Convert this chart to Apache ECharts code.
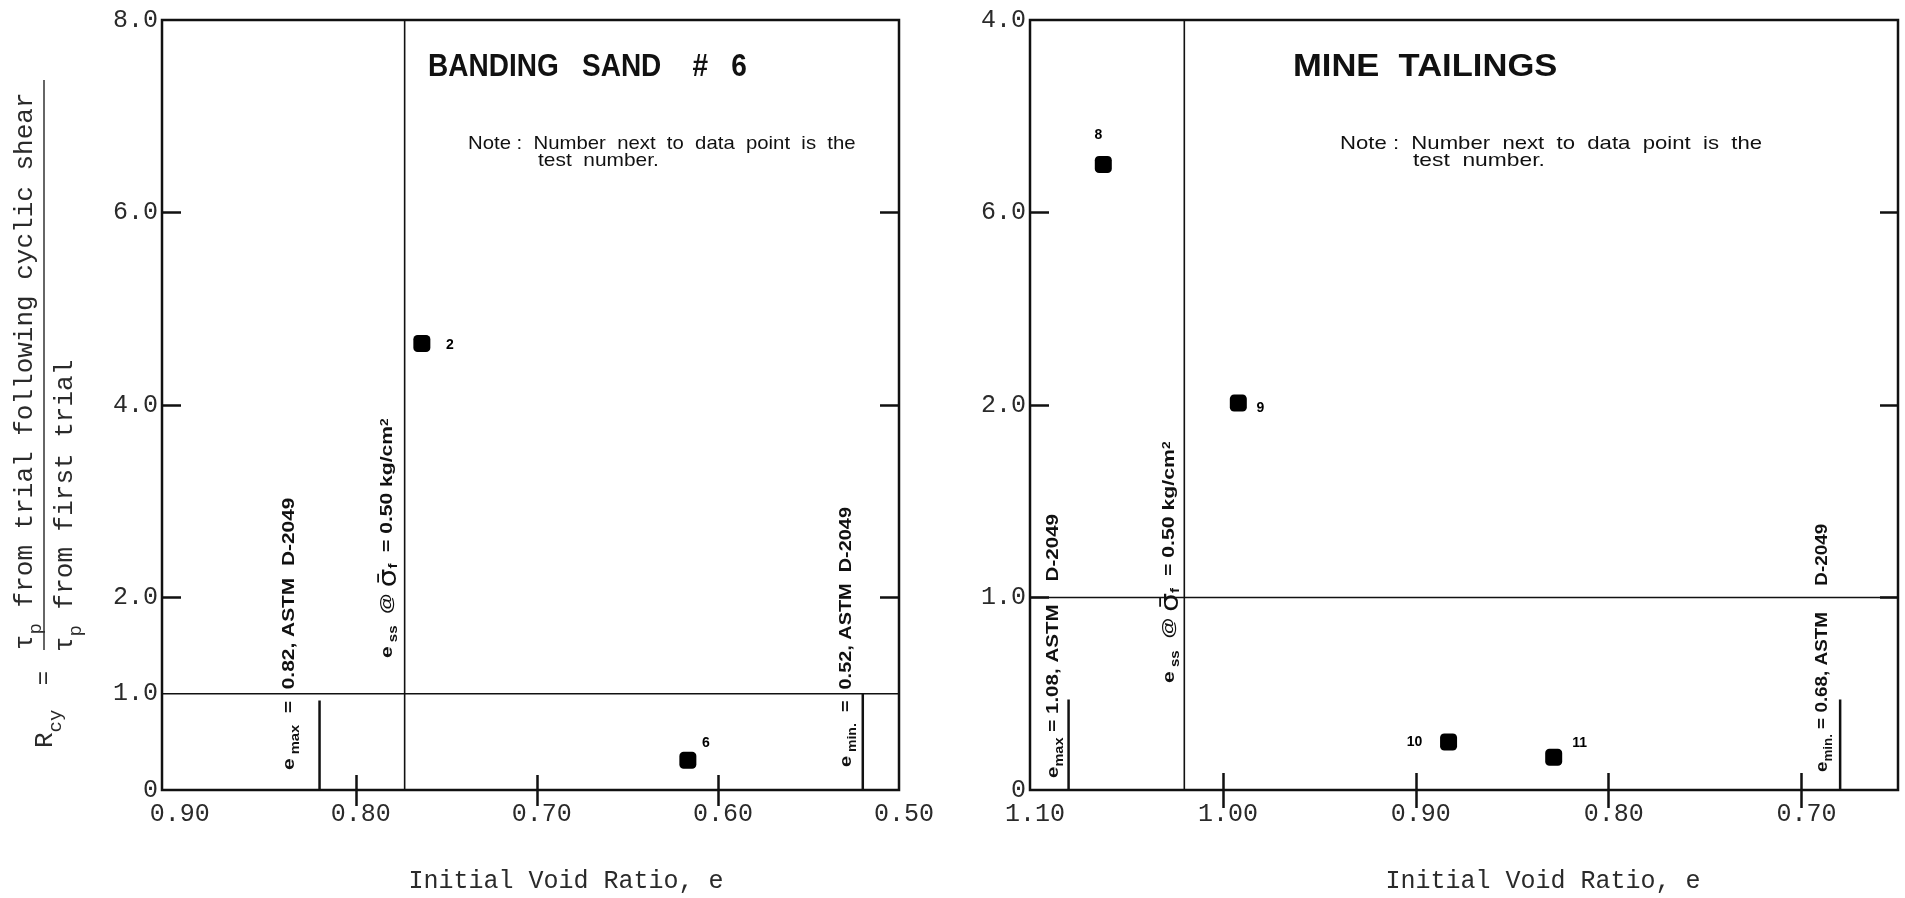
<!DOCTYPE html>
<html>
<head>
<meta charset="utf-8">
<script src="https://cdn.jsdelivr.net/npm/echarts@6/dist/echarts.min.js"></script>
<style>
  html, body { margin: 0; padding: 0; background: #ffffff; }
  #chart { width: 1905px; height: 898px; }
</style>
</head>
<body>
<div id="chart"></div>
<script>
// ---- Banding Sand #6 : initial void ratio vs. R_cy ----
const bandVoidRatio = [0.7635, 0.6166];
const bandRcy = [4.64, 0.31];
const bandTests = ['2', '6'];
// limiting void ratios (vertical reference lines) and the heights they are drawn to
const bandEmax = 0.82, bandEmaxTop = 0.93;
const bandEmin = 0.52, bandEminTop = 1.0;
const bandEss = 0.773;

// ---- Mine tailings ----
const mineVoidRatio = [1.062, 0.992, 0.883, 0.8285];
const mineRcy = [3.25, 2.01, 0.25, 0.17];
const mineTests = ['8', '9', '10', '11'];
const mineEmax = 1.08, mineEmaxTop = 0.47;
const mineEmin = 0.68, mineEminTop = 0.47;
const mineEss = 1.02;

// R_cy = 1.0 line in both panels
const unityRcy = 1.0;

// axis ranges and tick labels
const bandXRange = [0.50, 0.907];
const bandYRange = [0, 8];
const bandXLabels = [0.90, 0.80, 0.70, 0.60, 0.50];
const bandXTickMarks = [0.80, 0.70, 0.60];
const bandYLabels = [0, 1, 2, 4, 6, 8];
const bandYTickMarks = [2, 4, 6];

const mineXRange = [0.65, 1.10];
const mineYRange = [0, 4];
const mineXLabels = [1.10, 1.00, 0.90, 0.80, 0.70];
const mineXTickMarks = [1.00, 0.90, 0.80, 0.70];
const mineYLabelValues = [0, 1, 2, 3, 4];
const mineYLabelTexts = ['0', '1.0', '2.0', '6.0', '4.0'];
const mineYTickMarks = [1, 2, 3];

// ---- styling ----
const INK = '#111';
const GREY_INK = '#2a2a2a';
const MONO = 'Liberation Mono';
const SANS = 'Liberation Sans';
const labelOffsets = { '2': [28, 2], '6': [18, -17], '8': [-5, -29], '9': [22, 5], '10': [-34, 0], '11': [26, -14] };

const chart = echarts.init(document.getElementById('chart'), null, { renderer: 'canvas' });

const tickLabelStyle = { fontFamily: MONO, fontSize: 25, color: GREY_INK };

function xAxisDef(grid, range, position, tickMarks, tickLen, labels) {
  return {
    gridIndex: grid, type: 'value', inverse: true, position: position,
    min: range[0], max: range[1],
    axisLine: { show: false }, splitLine: { show: false },
    axisTick: { show: true, inside: true, length: tickLen, customValues: tickMarks,
      lineStyle: { color: INK, width: 2.5 } },
    axisLabel: labels ? Object.assign({ show: true, customValues: labels, margin: 12,
      formatter: v => v.toFixed(2), padding: [0, 0, 0, 10] }, tickLabelStyle) : { show: false }
  };
}
function yAxisDef(grid, range, position, tickMarks, tickLen, labels, formatter) {
  return {
    gridIndex: grid, type: 'value', position: position,
    min: range[0], max: range[1],
    axisLine: { show: false }, splitLine: { show: false },
    axisTick: { show: true, inside: true, length: tickLen, customValues: tickMarks,
      lineStyle: { color: INK, width: 2.5 } },
    axisLabel: labels ? Object.assign({ show: true, customValues: labels, margin: 4,
      formatter: formatter }, tickLabelStyle) : { show: false }
  };
}

function segment(xi, yi, pts, width) {
  return { type: 'line', xAxisIndex: xi, yAxisIndex: yi, data: pts, symbol: 'none',
    silent: true, animation: false, z: 3, lineStyle: { color: INK, width: width, opacity: 1 } };
}

function pointSeries(xi, yi, xs, ys, tests) {
  return {
    type: 'scatter', xAxisIndex: xi, yAxisIndex: yi, symbol: 'roundRect', symbolSize: 17,
    itemStyle: { color: '#000', opacity: 1 }, animation: false, z: 4,
    data: xs.map((x, i) => ({ value: [x, ys[i]], name: tests[i],
      label: { offset: labelOffsets[tests[i]] } })),
    label: { show: true, position: 'inside', formatter: '{b}', color: '#000',
      fontFamily: SANS, fontWeight: 'bold', fontSize: 14 }
  };
}

// rotated annotation next to a limiting void ratio line
// (main glyphs top-aligned, subscripts bottom-aligned within the same line box)
const annoRich = {
  b: { fontFamily: SANS, fontWeight: 'bold', fontSize: 17, lineHeight: 21, verticalAlign: 'top', fill: INK },
  sub: { fontFamily: SANS, fontWeight: 'bold', fontSize: 12, lineHeight: 21, verticalAlign: 'bottom', fill: INK },
  sup: { fontFamily: SANS, fontWeight: 'bold', fontSize: 11, lineHeight: 21, verticalAlign: 'top', fill: INK },
  sig: { fontFamily: 'DejaVu Sans', fontSize: 24, lineHeight: 21, verticalAlign: 'middle', fill: INK }
};
function rotatedNote(x, y, text, stretch) {
  return { type: 'text', x: x, y: y, rotation: Math.PI / 2, scaleX: stretch, silent: true,
    style: { text: text, align: 'left', verticalAlign: 'top', rich: annoRich } };
}
const essText = '{b|e}{sub| ss}{b|  @ }{sig|σ̄}{sub|f}{b|  = 0.50 kg/cm}{sup|2}';

const monoRich = {
  m: { fontFamily: MONO, fontSize: 26, lineHeight: 33, verticalAlign: 'top', fill: GREY_INK },
  s: { fontFamily: MONO, fontSize: 19, lineHeight: 33, verticalAlign: 'bottom', fill: GREY_INK }
};

function plainText(x, y, text, size, opts) {
  return Object.assign({ type: 'text', x: x, y: y, silent: true,
    style: { text: text, fontFamily: SANS, fontSize: size, fill: INK, align: 'left', verticalAlign: 'middle' } }, opts || {});
}

const graphics = [
  // panel titles
  { type: 'text', x: 428, y: 67, scaleX: 0.875, silent: true,
    style: { text: 'BANDING   SAND    #   6', fontFamily: SANS, fontWeight: 'bold', fontSize: 32,
      fill: INK, align: 'left', verticalAlign: 'middle' } },
  { type: 'text', x: 1293, y: 67, scaleX: 1.08, silent: true,
    style: { text: 'MINE  TAILINGS', fontFamily: SANS, fontWeight: 'bold', fontSize: 32,
      fill: INK, align: 'left', verticalAlign: 'middle' } },
  // notes
  plainText(468, 144, 'Note :  Number  next  to  data  point  is  the', 19, { scaleX: 1.07 }),
  plainText(538, 161, 'test  number.', 19, { scaleX: 1.1 }),
  plainText(1340, 144, 'Note :  Number  next  to  data  point  is  the', 19, { scaleX: 1.165 }),
  plainText(1413, 161, 'test  number.', 19, { scaleX: 1.2 }),
  // x axis titles
  { type: 'text', x: 566, y: 881, silent: true,
    style: { text: 'Initial Void Ratio, e', fontFamily: MONO, fontSize: 25, fill: GREY_INK,
      align: 'center', verticalAlign: 'middle' } },
  { type: 'text', x: 1543, y: 881, silent: true,
    style: { text: 'Initial Void Ratio, e', fontFamily: MONO, fontSize: 25, fill: GREY_INK,
      align: 'center', verticalAlign: 'middle' } },
  // y axis title: R_cy = tau_p (following cyclic shear) / tau_p (first trial)
  { type: 'text', x: 12, y: 650, rotation: Math.PI / 2, silent: true,
    style: { text: '{m|τ}{s|p}{m| from trial following cyclic shear}', align: 'left',
      verticalAlign: 'top', rich: monoRich } },
  { type: 'text', x: 52, y: 652, rotation: Math.PI / 2, silent: true,
    style: { text: '{m|τ}{s|p}{m| from first trial}', align: 'left',
      verticalAlign: 'top', rich: monoRich } },
  { type: 'line', silent: true, shape: { x1: 44, y1: 80, x2: 44, y2: 650 },
    style: { stroke: '#333', lineWidth: 1.5 } },
  { type: 'text', x: 45, y: 678, rotation: Math.PI / 2, silent: true,
    style: { text: '=', fontFamily: MONO, fontSize: 24, fill: GREY_INK,
      align: 'center', verticalAlign: 'middle' } },
  { type: 'text', x: 32, y: 748, rotation: Math.PI / 2, silent: true,
    style: { text: '{m|R}{s|cy}', align: 'left', verticalAlign: 'top', rich: monoRich } },
  // annotations beside the limiting void ratio lines
  rotatedNote(281, 770, '{b|e}{sub| max}{b|  =  0.82, ASTM  D-2049}', 1.23),
  rotatedNote(379, 658, essText, 1.24),
  rotatedNote(838, 767, '{b|e}{sub| min.}{b|  =  0.52, ASTM  D-2049}', 1.17),
  rotatedNote(1045, 778, '{b|e}{sub|max}{b| = 1.08, ASTM    D-2049}', 1.21),
  rotatedNote(1161, 683, essText, 1.25),
  rotatedNote(1814, 772, '{b|e}{sub|min.}{b| = 0.68, ASTM     D-2049}', 1.11)
];

const option = {
  backgroundColor: '#ffffff',
  animation: false,
  grid: [
    { left: 162, top: 20, width: 737, height: 770, show: true, borderColor: INK, borderWidth: 2.5,
      containLabel: false, outerBoundsMode: 'none' },
    { left: 1030, top: 20, width: 868, height: 770, show: true, borderColor: INK, borderWidth: 2.5,
      containLabel: false, outerBoundsMode: 'none' }
  ],
  xAxis: [
    xAxisDef(0, bandXRange, 'bottom', bandXTickMarks, 15, bandXLabels),
    xAxisDef(0, bandXRange, 'top', bandXTickMarks, 16, null),
    xAxisDef(1, mineXRange, 'bottom', mineXTickMarks, 17, mineXLabels),
    xAxisDef(1, mineXRange, 'top', mineXTickMarks, 18, null)
  ],
  yAxis: [
    yAxisDef(0, bandYRange, 'left', bandYTickMarks, 19, bandYLabels, v => v === 0 ? '0' : v.toFixed(1)),
    yAxisDef(0, bandYRange, 'right', bandYTickMarks, 19, null),
    yAxisDef(1, mineYRange, 'left', mineYTickMarks, 19, mineYLabelValues,
      v => mineYLabelTexts[mineYLabelValues.indexOf(Math.round(v))]),
    yAxisDef(1, mineYRange, 'right', mineYTickMarks, 18, null)
  ],
  series: [
    // Banding sand panel
    segment(0, 0, [[bandXRange[0], unityRcy], [bandXRange[1], unityRcy]], 1.6),
    segment(0, 0, [[bandEss, bandYRange[0]], [bandEss, bandYRange[1]]], 1.6),
    segment(0, 0, [[bandEmax, 0], [bandEmax, bandEmaxTop]], 2.5),
    segment(0, 0, [[bandEmin, 0], [bandEmin, bandEminTop]], 2.5),
    pointSeries(0, 0, bandVoidRatio, bandRcy, bandTests),
    // Mine tailings panel
    segment(2, 2, [[mineXRange[0], unityRcy], [mineXRange[1], unityRcy]], 1.6),
    segment(2, 2, [[mineEss, mineYRange[0]], [mineEss, mineYRange[1]]], 1.6),
    segment(2, 2, [[mineEmax, 0], [mineEmax, mineEmaxTop]], 2.5),
    segment(2, 2, [[mineEmin, 0], [mineEmin, mineEminTop]], 2.5),
    pointSeries(2, 2, mineVoidRatio, mineRcy, mineTests)
  ],
  graphic: graphics
};

chart.setOption(option);
</script>
</body>
</html>
